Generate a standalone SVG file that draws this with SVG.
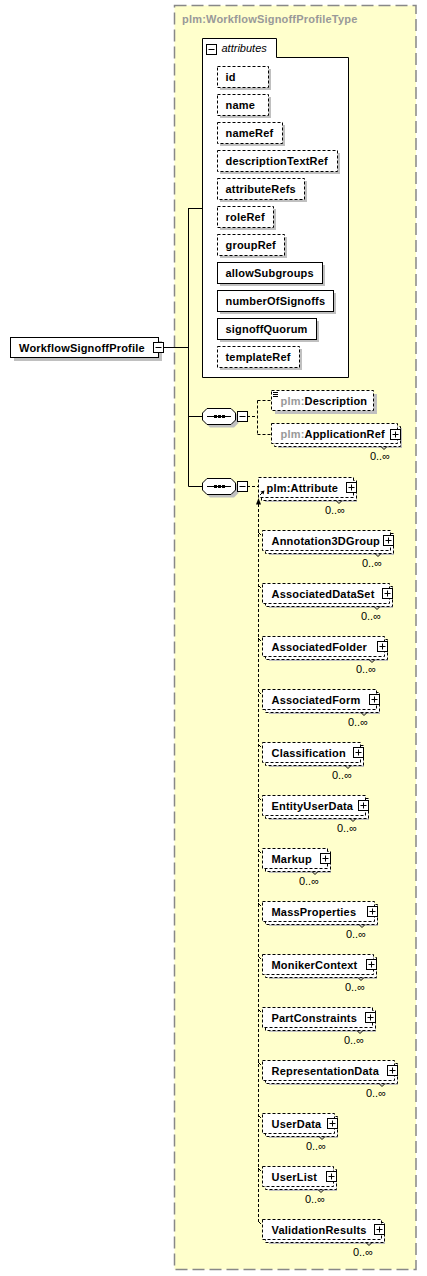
<svg xmlns="http://www.w3.org/2000/svg" xmlns:xlink="http://www.w3.org/1999/xlink" width="427" height="1276" viewBox="0 0 427 1276">
<style>
.bg{fill:#ffffcc;stroke:#888;stroke-width:1.5;stroke-dasharray:12,5}
.shd{fill:#c0c0c0}
.box{fill:#fff;stroke:#000;stroke-width:1}
.dbox{fill:#fff;stroke:#000;stroke-width:1;stroke-dasharray:3,2}
.ln{fill:none;stroke:#000;stroke-width:1}
.dl{fill:none;stroke:#000;stroke-width:1;stroke-dasharray:3,2}
.t{font-family:"Liberation Sans",Arial,sans-serif;font-size:11px;font-weight:bold;fill:#000;letter-spacing:0.2px}
.g{fill:#999}
.it{font-family:"Liberation Sans",Arial,sans-serif;font-size:11px;font-style:italic;fill:#000}
.occ{font-family:"Liberation Sans",Arial,sans-serif;font-size:11px;fill:#000;text-anchor:end}
</style>
<defs>
<g id="minus"><rect x="1" y="1" width="10" height="10" fill="#000"/><rect x="0.5" y="0.5" width="10" height="10" class="box"/><path d="M2.5,5.5H8.5" class="ln"/></g>
<g id="plus"><rect x="1" y="1" width="10" height="10" fill="#000"/><rect x="0.5" y="0.5" width="10" height="10" class="box"/><path d="M2.5,5.5H8.5M5.5,2.5V8.5" class="ln"/></g>
<g id="seq">
<path d="M8,3.5H32L36.5,8V15L32,19.5H8L3.5,15V8Z" class="shd"/>
<path d="M5,0.5H29L33.5,5V12L29,16.5H5L0.5,12V5Z" class="box"/>
<path d="M5,8.5H29" class="ln"/>
<rect x="12" y="7" width="3" height="3"/><rect x="16" y="7" width="3" height="3"/><rect x="20" y="7" width="3" height="3"/>
</g>
</defs>

<rect class="bg" x="174.5" y="5.5" width="241.5" height="1264"/>
<text class="t g" x="182" y="23">plm:WorkflowSignoffProfileType</text>

<g id="connectors">
<path class="ln" d="M164,347.5H188.5M188.5,208V486.5M188.5,208.5H202M188.5,416.5H202M188.5,486.5H202"/>
<path class="dl" d="M247,416.5H257.5M257.5,400.5V434.5M257.5,400.5H271M257.5,434.5H271M247,486.5H258"/>
<path class="dl" d="M258.5,504V1221"/>
<path d="M258.5,498L256,504.5H261Z" fill="#000"/>
<path class="ln" d="M258,532L261,535M258,585L261,588M258,638L261,641M258,691L261,694M258,744L261,747M258,797L261,800M258,850L261,853M258,903L261,906M258,956L261,959M258,1009L261,1012M258,1062L261,1065M258,1115L261,1118M258,1168L261,1171M258,1221L261,1224"/>
</g>

<g id="WorkflowSignoffProfile">
<rect class="shd" x="14" y="341" width="148" height="20"/>
<rect class="box" x="10.5" y="337.5" width="148" height="20"/>
<text class="t" x="19" y="351.5">WorkflowSignoffProfile</text>
<use xlink:href="#minus" x="153" y="342"/>
</g>

<g id="attributes">
<path class="box" d="M202.5,377.5V38.5H276.5V57.5H348.5V377.5Z"/>
<use xlink:href="#minus" x="206" y="44"/>
<text class="it" x="221.5" y="52">attributes</text>
<g id="attr-id"><rect class="shd" x="220" y="69" width="51" height="21"/><rect class="dbox" x="217.5" y="66.5" width="51" height="21"/><text class="t" x="225.5" y="81">id</text></g>
<g id="attr-name"><rect class="shd" x="220" y="97" width="51" height="21"/><rect class="dbox" x="217.5" y="94.5" width="51" height="21"/><text class="t" x="225.5" y="109">name</text></g>
<g id="attr-nameRef"><rect class="shd" x="220" y="125" width="65" height="21"/><rect class="dbox" x="217.5" y="122.5" width="65" height="21"/><text class="t" x="225.5" y="137">nameRef</text></g>
<g id="attr-descriptionTextRef"><rect class="shd" x="220" y="153" width="120" height="21"/><rect class="dbox" x="217.5" y="150.5" width="120" height="21"/><text class="t" x="225.5" y="165">descriptionTextRef</text></g>
<g id="attr-attributeRefs"><rect class="shd" x="220" y="181" width="87" height="21"/><rect class="dbox" x="217.5" y="178.5" width="87" height="21"/><text class="t" x="225.5" y="193">attributeRefs</text></g>
<g id="attr-roleRef"><rect class="shd" x="220" y="209" width="56" height="21"/><rect class="dbox" x="217.5" y="206.5" width="56" height="21"/><text class="t" x="225.5" y="221">roleRef</text></g>
<g id="attr-groupRef"><rect class="shd" x="220" y="237" width="67" height="21"/><rect class="dbox" x="217.5" y="234.5" width="67" height="21"/><text class="t" x="225.5" y="249">groupRef</text></g>
<g id="attr-allowSubgroups"><rect class="shd" x="220" y="265" width="105" height="21"/><rect class="box" x="217.5" y="262.5" width="105" height="21"/><text class="t" x="225.5" y="277">allowSubgroups</text></g>
<g id="attr-numberOfSignoffs"><rect class="shd" x="220" y="293" width="116" height="21"/><rect class="box" x="217.5" y="290.5" width="116" height="21"/><text class="t" x="225.5" y="305">numberOfSignoffs</text></g>
<g id="attr-signoffQuorum"><rect class="shd" x="220" y="321" width="99" height="21"/><rect class="box" x="217.5" y="318.5" width="99" height="21"/><text class="t" x="225.5" y="333">signoffQuorum</text></g>
<g id="attr-templateRef"><rect class="shd" x="220" y="349" width="82" height="21"/><rect class="dbox" x="217.5" y="346.5" width="82" height="21"/><text class="t" x="225.5" y="361">templateRef</text></g>
</g>

<g id="sequence1"><use xlink:href="#seq" x="202" y="408"/><use xlink:href="#minus" x="237" y="411"/></g>
<g id="sequence2"><use xlink:href="#seq" x="202" y="478"/><use xlink:href="#minus" x="237" y="481"/></g>

<g id="Description">
<rect class="shd" x="275" y="394" width="102" height="20"/>
<rect class="dbox" x="271.5" y="390.5" width="102" height="20"/>
<path class="ln" d="M273,392.5H278M273,394.5H278M273,396.5H278"/>
<text class="t" x="280.5" y="404.5"><tspan class="g">plm:</tspan>Description</text>
</g>

<g id="ApplicationRef">
<rect class="shd" x="278" y="428" width="124" height="20"/>
<rect class="dbox" x="274.5" y="426.5" width="126" height="20"/>
<rect class="dbox" x="271.5" y="423.5" width="126" height="20"/>
<path class="ln" d="M381,446.5L384,449.5L387,446.5"/>
<text class="t" x="280.5" y="438"><tspan class="g">plm:</tspan>ApplicationRef</text>
<use xlink:href="#plus" x="390" y="429"/>
<text class="occ" x="390" y="460">0..∞</text>
</g>

<g id="Attribute">
<rect class="shd" x="265" y="482" width="92" height="20"/>
<rect class="dbox" x="261.5" y="480.5" width="95" height="20"/>
<rect class="dbox" x="258.5" y="477.5" width="95" height="20"/>
<path class="ln" d="M336,500.5L339,503.5L342,500.5"/>
<path class="ln" d="M260,495L263.5,491.5"/><path d="M264.5,490.5L260.5,491.5L263.5,494.5Z" fill="#000"/>
<text class="t" x="266.5" y="492">plm:Attribute</text>
<use xlink:href="#plus" x="346" y="482"/>
<text class="occ" x="345" y="514">0..∞</text>
</g>

<g id="Annotation3DGroup"><rect class="shd" x="269" y="535" width="125" height="20"/><rect class="dbox" x="265.5" y="533.5" width="128" height="20"/><rect class="dbox" x="262.5" y="530.5" width="128" height="20"/><path class="ln" d="M375,553.5L378,556.5L381,553.5"/><text class="t" x="271.5" y="545">Annotation3DGroup</text><use xlink:href="#plus" x="383" y="535"/><text class="occ" x="382" y="567">0..∞</text></g>
<g id="AssociatedDataSet"><rect class="shd" x="269" y="588" width="124" height="20"/><rect class="dbox" x="265.5" y="586.5" width="127" height="20"/><rect class="dbox" x="262.5" y="583.5" width="127" height="20"/><path class="ln" d="M374,606.5L377,609.5L380,606.5"/><text class="t" x="271.5" y="598">AssociatedDataSet</text><use xlink:href="#plus" x="382" y="588"/><text class="occ" x="381" y="620">0..∞</text></g>
<g id="AssociatedFolder"><rect class="shd" x="269" y="641" width="119" height="20"/><rect class="dbox" x="265.5" y="639.5" width="122" height="20"/><rect class="dbox" x="262.5" y="636.5" width="122" height="20"/><path class="ln" d="M369,659.5L372,662.5L375,659.5"/><text class="t" x="271.5" y="651">AssociatedFolder</text><use xlink:href="#plus" x="377" y="641"/><text class="occ" x="376" y="673">0..∞</text></g>
<g id="AssociatedForm"><rect class="shd" x="269" y="694" width="111" height="20"/><rect class="dbox" x="265.5" y="692.5" width="114" height="20"/><rect class="dbox" x="262.5" y="689.5" width="114" height="20"/><path class="ln" d="M361,712.5L364,715.5L367,712.5"/><text class="t" x="271.5" y="704">AssociatedForm</text><use xlink:href="#plus" x="369" y="694"/><text class="occ" x="368" y="726">0..∞</text></g>
<g id="Classification"><rect class="shd" x="269" y="747" width="95" height="20"/><rect class="dbox" x="265.5" y="745.5" width="98" height="20"/><rect class="dbox" x="262.5" y="742.5" width="98" height="20"/><path class="ln" d="M345,765.5L348,768.5L351,765.5"/><text class="t" x="271.5" y="757">Classification</text><use xlink:href="#plus" x="353" y="747"/><text class="occ" x="352" y="779">0..∞</text></g>
<g id="EntityUserData"><rect class="shd" x="269" y="800" width="100" height="20"/><rect class="dbox" x="265.5" y="798.5" width="103" height="20"/><rect class="dbox" x="262.5" y="795.5" width="103" height="20"/><path class="ln" d="M350,818.5L353,821.5L356,818.5"/><text class="t" x="271.5" y="810">EntityUserData</text><use xlink:href="#plus" x="358" y="800"/><text class="occ" x="357" y="832">0..∞</text></g>
<g id="Markup"><rect class="shd" x="269" y="853" width="62" height="20"/><rect class="dbox" x="265.5" y="851.5" width="65" height="20"/><rect class="dbox" x="262.5" y="848.5" width="65" height="20"/><path class="ln" d="M312,871.5L315,874.5L318,871.5"/><text class="t" x="271.5" y="863">Markup</text><use xlink:href="#plus" x="320" y="853"/><text class="occ" x="319" y="885">0..∞</text></g>
<g id="MassProperties"><rect class="shd" x="269" y="906" width="109" height="20"/><rect class="dbox" x="265.5" y="904.5" width="112" height="20"/><rect class="dbox" x="262.5" y="901.5" width="112" height="20"/><path class="ln" d="M359,924.5L362,927.5L365,924.5"/><text class="t" x="271.5" y="916">MassProperties</text><use xlink:href="#plus" x="367" y="906"/><text class="occ" x="366" y="938">0..∞</text></g>
<g id="MonikerContext"><rect class="shd" x="269" y="959" width="108" height="20"/><rect class="dbox" x="265.5" y="957.5" width="111" height="20"/><rect class="dbox" x="262.5" y="954.5" width="111" height="20"/><path class="ln" d="M358,977.5L361,980.5L364,977.5"/><text class="t" x="271.5" y="969">MonikerContext</text><use xlink:href="#plus" x="366" y="959"/><text class="occ" x="365" y="991">0..∞</text></g>
<g id="PartConstraints"><rect class="shd" x="269" y="1012" width="107" height="20"/><rect class="dbox" x="265.5" y="1010.5" width="110" height="20"/><rect class="dbox" x="262.5" y="1007.5" width="110" height="20"/><path class="ln" d="M357,1030.5L360,1033.5L363,1030.5"/><text class="t" x="271.5" y="1022">PartConstraints</text><use xlink:href="#plus" x="365" y="1012"/><text class="occ" x="364" y="1044">0..∞</text></g>
<g id="RepresentationData"><rect class="shd" x="269" y="1065" width="129" height="20"/><rect class="dbox" x="265.5" y="1063.5" width="132" height="20"/><rect class="dbox" x="262.5" y="1060.5" width="132" height="20"/><path class="ln" d="M379,1083.5L382,1086.5L385,1083.5"/><text class="t" x="271.5" y="1075">RepresentationData</text><use xlink:href="#plus" x="387" y="1065"/><text class="occ" x="386" y="1097">0..∞</text></g>
<g id="UserData"><rect class="shd" x="269" y="1118" width="69" height="20"/><rect class="dbox" x="265.5" y="1116.5" width="72" height="20"/><rect class="dbox" x="262.5" y="1113.5" width="72" height="20"/><path class="ln" d="M319,1136.5L322,1139.5L325,1136.5"/><text class="t" x="271.5" y="1128">UserData</text><use xlink:href="#plus" x="327" y="1118"/><text class="occ" x="326" y="1150">0..∞</text></g>
<g id="UserList"><rect class="shd" x="269" y="1171" width="68" height="20"/><rect class="dbox" x="265.5" y="1169.5" width="71" height="20"/><rect class="dbox" x="262.5" y="1166.5" width="71" height="20"/><path class="ln" d="M318,1189.5L321,1192.5L324,1189.5"/><text class="t" x="271.5" y="1181">UserList</text><use xlink:href="#plus" x="326" y="1171"/><text class="occ" x="325" y="1203">0..∞</text></g>
<g id="ValidationResults"><rect class="shd" x="269" y="1224" width="116" height="20"/><rect class="dbox" x="265.5" y="1222.5" width="119" height="20"/><rect class="dbox" x="262.5" y="1219.5" width="119" height="20"/><path class="ln" d="M366,1242.5L369,1245.5L372,1242.5"/><text class="t" x="271.5" y="1234">ValidationResults</text><use xlink:href="#plus" x="374" y="1224"/><text class="occ" x="373" y="1256">0..∞</text></g>
</svg>
